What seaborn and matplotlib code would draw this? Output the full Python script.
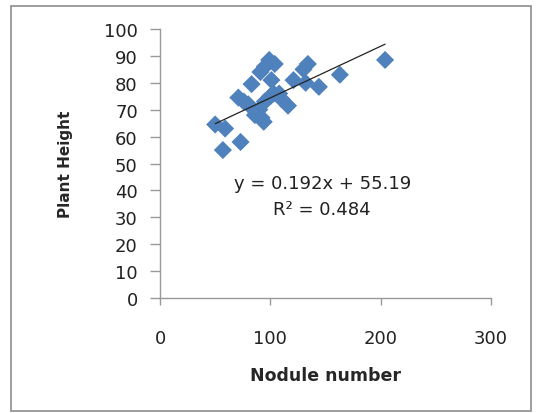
import matplotlib
matplotlib.use("Agg")
import matplotlib.pyplot as plt
import seaborn as sns
import numpy as np
import pandas as pd
from matplotlib.patches import Rectangle

nodule_number = [50, 59, 57, 73, 71, 76, 80, 83, 86, 90, 92, 94, 95, 91, 95, 99,
                 101, 104, 100, 103, 108, 110, 116, 121, 130, 134, 132, 144, 163, 204]
plant_height = [64.5, 63, 55, 58, 74.5, 73, 72, 79.5, 68, 70, 67, 65.5, 73, 84, 86, 88.5,
                81, 87, 75, 76, 76, 74, 71.5, 81, 85, 87, 80, 78.5, 83, 88.5]
slope, intercept, r2 = 0.192, 55.19, 0.484
x_ticks = [0, 100, 200, 300]
y_ticks = list(range(0, 101, 10))

sns.set_style("white")
plt.rcParams['font.family'] = ['DejaVu Sans']

fig = plt.figure(figsize=(5.38, 4.14), dpi=100)
ax = fig.add_axes([160/538, 1-299/414, (491-160)/538, (299-30)/414])

df = pd.DataFrame({"Nodule number": nodule_number, "Plant Height": plant_height})
sns.scatterplot(data=df, x="Nodule number", y="Plant Height", marker="D", s=85,
                color="#4F81BD", edgecolor="none", ax=ax, zorder=3)

xl = np.array([min(nodule_number), max(nodule_number)])
line_df = pd.DataFrame({"x": xl, "y": slope * xl + intercept})
sns.lineplot(data=line_df, x="x", y="y", color="#222222", lw=0.9, ax=ax, zorder=4)

ax.set_xlim(0, 300)
ax.set_ylim(0, 100)
ax.set_xticks(x_ticks)
ax.set_yticks(y_ticks)
for s in ["top", "right"]:
    ax.spines[s].set_visible(False)
for s in ["left", "bottom"]:
    ax.spines[s].set_color("#999999")
    ax.spines[s].set_linewidth(1.0)
ax.tick_params(axis="y", direction="out", length=7, width=1, color="#999999",
               labelsize=13, pad=9, left=True, labelcolor="#222222")
ax.tick_params(axis="x", direction="out", length=5, width=1, color="#999999",
               labelsize=13, pad=17, bottom=True, labelcolor="#222222")
ax.set_xlabel("Nodule number", fontsize=12.5, fontweight="bold", labelpad=14)
ax.set_ylabel("Plant Height", fontsize=11, fontweight="bold", labelpad=22)

ax.text(0.49, 0.428, f"y = {slope}x + {intercept}", transform=ax.transAxes,
        ha="center", va="center", fontsize=13, color="#222222")
ax.text(0.49, 0.33, f"R² = {r2}", transform=ax.transAxes,
        ha="center", va="center", fontsize=13, color="#222222")

fig.patches.append(Rectangle((11/538, 2/414), 520/538, 405/414, transform=fig.transFigure,
                             fill=False, edgecolor="#8c8c8c", lw=1.2))

fig.savefig("out.png", dpi=100)
